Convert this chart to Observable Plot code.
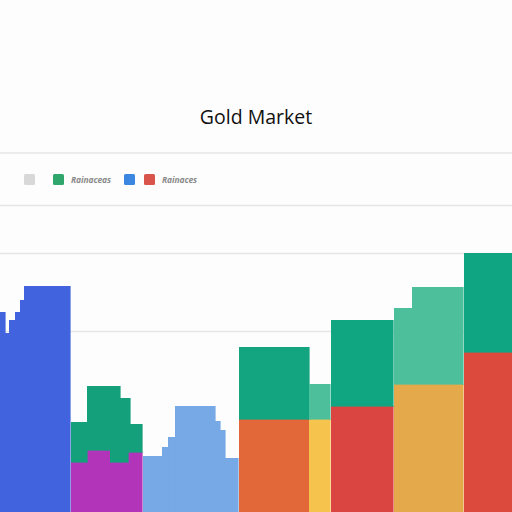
<!DOCTYPE html>
<html><head><meta charset="utf-8">
<script src="https://cdn.jsdelivr.net/npm/d3@7"></script>
<script src="https://cdn.jsdelivr.net/npm/@observablehq/plot@0.6"></script>
<style>
body{margin:0;background:#fdfdfd;width:512px;height:512px;overflow:hidden;position:relative;font-family:"Open Sans",sans-serif}
#title{position:absolute;top:103px;left:0;width:512px;text-align:center;font-size:19.5px;font-weight:500;color:#111}
.hl{position:absolute;left:0;width:512px;height:1.5px;background:#ececec}
.sw{position:absolute;top:174px;width:11px;height:11px;border-radius:1.5px}
.lt{position:absolute;top:173.5px;font-size:8.5px;font-weight:700;font-style:italic;color:#8a8a8a;letter-spacing:-0.1px}
#chart{position:absolute;top:200px;left:0}
</style></head><body>
<div id="title">Gold Market</div>
<div class="hl" style="top:152px"></div>
<div id="legend"></div>
<div id="chart"></div>
<script>
// legend
const legendSwatches = ["#d8d8d8", "#2ea66c", "#3a86e0", "#d9544a"];
const legendLabels = ["", "Rainaceas", "", "Rainaces"];
// step segments: [x0, x1, value]
const blueSteps = [[0,5,200],[5,9,179],[9,15,192],[15,20,200],[20,24,212],[24,70,226]];
const magentaSteps = [[71,87,50],[87,110,62],[110,128,50],[128,142,60]];
const greenOnMagenta = [[71,87,90],[87,120,126],[120,130,114],[130,142,88]];
const lightBlueSteps = [[143,162,56],[162,168,65],[168,175,75],[175,215,106],[215,220,91],[220,225,82],[225,238,54]];
const baseBars = [[239,309,93,"#e2683a"],[309,330,93,"#f6c44c"],[331,393,106,"#db4541"],[394,463,128,"#e4a94b"],[464,512,160,"#dc4a3d"]];
const topBars = [[239,309,165,"#12a580"],[309,330,128,"#4dc09b"],[331,393,192,"#11a682"],[394,412,204,"#4dc09b"],[412,463,225,"#4dc09b"],[464,512,259,"#10a582"]];
const gridValues = [181, 259, 307];

// legend layout
const legendX = [24, 53, 124, 144];
const textX = [0, 71, 0, 162];
const lg = document.getElementById("legend");
legendSwatches.forEach((c,i)=>{
  const s=document.createElement("div");s.className="sw";s.style.left=legendX[i]+"px";s.style.background=c;lg.appendChild(s);
  if(legendLabels[i]){const t=document.createElement("div");t.className="lt";t.style.left=textX[i]+"px";t.textContent=legendLabels[i];lg.appendChild(t);}
});

const rects = [];
blueSteps.forEach(([a,b,v])=>rects.push({x1:a,x2:b,y1:0,y2:v,c:"#4263de"}));
magentaSteps.forEach(([a,b,v])=>rects.push({x1:a,x2:b,y1:0,y2:v,c:"#b234b8"}));
greenOnMagenta.forEach(([a,b,v])=>{
  const m = magentaSteps.filter(s=>s[0]<b && s[1]>a);
  m.forEach(s=>rects.push({x1:Math.max(a,s[0]),x2:Math.min(b,s[1]),y1:s[2],y2:v,c:"#14a07b"}));
});
lightBlueSteps.forEach(([a,b,v])=>rects.push({x1:a,x2:b,y1:0,y2:v,c:"#76a9e5"}));
baseBars.forEach(([a,b,v,c])=>rects.push({x1:a,x2:b,y1:0,y2:v,c}));
topBars.forEach(([a,b,v,c])=>{
  const base = baseBars.find(s=>s[0]<=a && s[1]>=b);
  rects.push({x1:a,x2:b,y1:base[2],y2:v,c});
});

const chart = Plot.plot({
  width:512, height:312,
  margin:0,
  x:{domain:[0,512], axis:null},
  y:{domain:[0,312], axis:null},
  marks:[
    Plot.ruleY(gridValues,{stroke:"#e6e6e6", strokeWidth:1.5}),
    Plot.rect(rects,{x1:"x1",x2:"x2",y1:"y1",y2:"y2",fill:"c",stroke:"c",strokeWidth:0.6,shapeRendering:"crispEdges"})
  ]
});
document.getElementById("chart").appendChild(chart);
</script>
</body></html>
